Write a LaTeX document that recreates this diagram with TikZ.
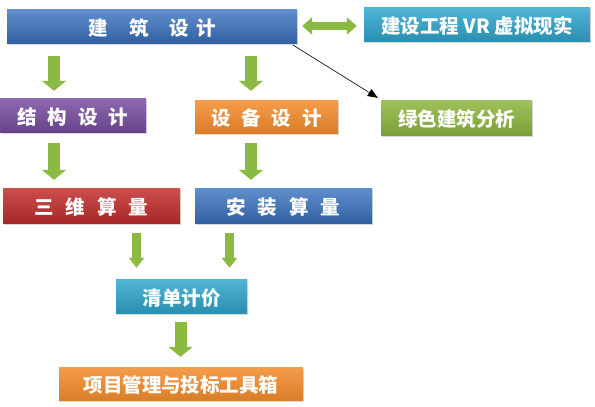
\documentclass[tikz,border=0pt]{standalone}
\usepackage{fontspec}
\newfontfamily\cjk{Noto Sans CJK SC}
\usetikzlibrary{arrows.meta,shadows}

\definecolor{archblue}{HTML}{3A72C0}
\definecolor{vrcyan}{HTML}{31A8CF}
\definecolor{structpurple}{HTML}{7A4FA2}
\definecolor{equiporange}{HTML}{F38B2C}
\definecolor{greenbox}{HTML}{8DB63F}
\definecolor{modelred}{HTML}{C3302F}
\definecolor{arrowgreen}{HTML}{8BBA43}

\tikzstyle{format}=[rectangle,inner sep=0pt,minimum height=34pt,text=white,text height=20pt,text depth=2pt,font=\cjk\bfseries\fontsize{19.5pt}{20pt}\selectfont,drop shadow={shadow xshift=1pt,shadow yshift=-2pt,opacity=0.3}]
\tikzstyle{bluefill}=[top color=archblue!80!white,bottom color=archblue!85!black]
\tikzstyle{cyanfill}=[top color=vrcyan!85!white,bottom color=vrcyan!85!black]
\tikzstyle{purplefill}=[top color=structpurple!85!white,bottom color=structpurple!85!black]
\tikzstyle{orangefill}=[top color=equiporange!85!white,bottom color=equiporange!90!black]
\tikzstyle{greenfill}=[top color=greenbox!85!white,bottom color=greenbox!88!black]
\tikzstyle{redfill}=[top color=modelred!85!white,bottom color=modelred!85!black]
\tikzstyle{fat}=[draw=arrowgreen,line width=12pt,-{Triangle[width=24pt,length=10pt]}]
\tikzstyle{slimfat}=[draw=arrowgreen,line width=9pt,-{Triangle[width=15pt,length=10pt]}]

\begin{document}
\begin{tikzpicture}[x=1pt,y=-1pt]
	\useasboundingbox (0,0) rectangle (595,407);
	\node[format,bluefill,minimum width=290pt] (arch) at (152,26) {建\hspace{22pt}筑\hspace{21pt}设\hspace{7pt}计\hspace{7pt}};
	\node[format,cyanfill,minimum width=226pt] (vr) at (477,24) {建设工程 VR 虚拟现实\hspace{2pt}};
	\node[format,purplefill,minimum width=146pt] (struct) at (73,115) {结\hspace{11pt}构\hspace{11pt}设\hspace{11pt}计\hspace{2pt}};
	\node[format,orangefill,minimum width=143pt,minimum height=33pt] (equip) at (266.5,116.5) {设\hspace{11pt}备\hspace{11pt}设\hspace{11pt}计\hspace{3pt}};
	\node[format,greenfill,minimum width=151pt,minimum height=35pt] (green) at (456.5,117.5) {绿色建筑分析\hspace{7pt}};
	\node[format,redfill,minimum width=177pt,minimum height=35pt] (model) at (91.5,205.5) {三\hspace{12pt}维\hspace{12pt}算\hspace{12pt}量\hspace{2pt}};
	\node[format,bluefill,minimum width=177pt,minimum height=35pt] (install) at (283.5,205.5) {安\hspace{12pt}装\hspace{12pt}算\hspace{12pt}量\hspace{2pt}};
	\node[format,cyanfill,minimum width=131pt] (bill) at (181.5,296) {清单计价\hspace{2pt}};
	\node[format,orangefill,minimum width=244pt,minimum height=33pt] (toolbox) at (181,383.5) {项目管理与投标工具箱\hspace{2pt}};
	% x positions of the green arrows
	\coordinate (left) at (54,0);
	\coordinate (mid) at (251,0);
	\coordinate (billl) at (136.5,0);
	\coordinate (billr) at (229.5,0);
	\coordinate (down) at (180.5,0);
	\draw[fat,shorten <=13pt,shorten >=7pt] (arch.south -| left)--(struct.north -| left);
	\draw[fat,shorten <=13pt,shorten >=9pt] (arch.south -| mid)--(equip.north -| mid);
	\draw[fat,shorten <=11pt,shorten >=8pt] (struct.south -| left)--(model.north -| left);
	\draw[fat,shorten <=10pt,shorten >=8pt] (equip.south -| mid)--(install.north -| mid);
	\draw[slimfat,shorten <=10pt,shorten >=11pt] (model.south -| billl)--(bill.north -| billl);
	\draw[slimfat,shorten <=10pt,shorten >=11pt] (install.south -| billr)--(bill.north -| billr);
	\draw[fat,shorten <=9pt,shorten >=10pt] (bill.south -| down)--(toolbox.north -| down);
	\draw[draw=arrowgreen,line width=8pt,{Triangle[width=17pt,length=10pt]}-{Triangle[width=17pt,length=10pt]},shorten <=5pt,shorten >=7pt] (arch.east)--(vr.west |- arch.east);
	\draw[line width=0.6pt,-{Triangle[width=8pt,length=10pt]}] ([xshift=-4pt,yshift=-2pt]arch.south east)--([xshift=-3pt,yshift=2pt]green.north west);
\end{tikzpicture}
\end{document}
